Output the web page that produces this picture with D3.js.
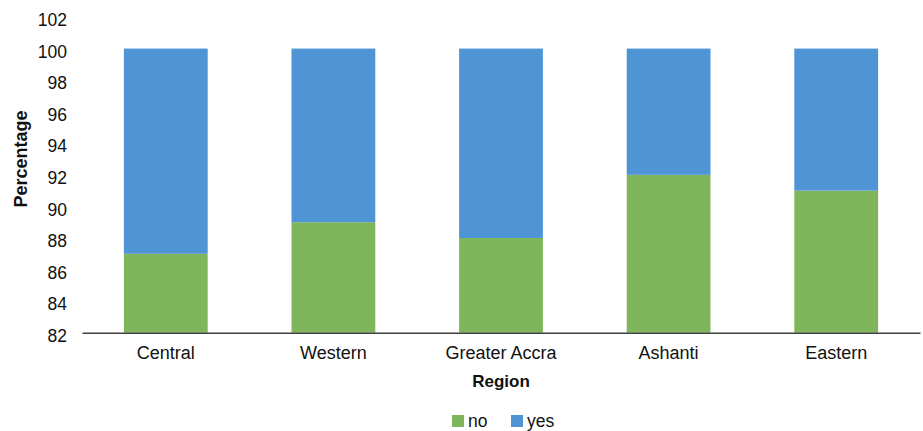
<!DOCTYPE html>
<html><head><meta charset="utf-8">
<script src="https://cdn.jsdelivr.net/npm/d3@7"></script>
<style>body{margin:0;background:#fff;} text{font-family:"Liberation Sans",Arial,sans-serif;}</style>
</head><body><svg id="c" width="923" height="431"></svg>
<script>
const categories = ["Central","Western","Greater Accra","Ashanti","Eastern"];
const noValues = [87, 89, 88, 92, 91];
const yesValues = [13, 11, 12, 8, 9];
const seriesNames = ["no","yes"];
const colors = ["#80b65b","#4f94d4"];
const yTicks = [82,84,86,88,90,92,94,96,98,100,102];

const svg = d3.select("#c");
const m = {left:82, right:3, top:17, bottom:98.3};
const W = 923, H = 431;
const x = d3.scaleBand().domain(categories).range([m.left, W-m.right]).paddingInner(0.5).paddingOuter(0.25);
const y = d3.scaleLinear().domain([82,102]).range([H-m.bottom, m.top]);

const rows = categories.map((c,i)=>({cat:c, no:noValues[i], yes:yesValues[i]}));
const stack = d3.stack().keys(seriesNames)(rows);

svg.append("g").selectAll("g").data(stack).join("g")
  .attr("fill",(d,i)=>colors[i])
  .selectAll("rect").data(d=>d).join("rect")
  .attr("x",d=>x(d.data.cat))
  .attr("width",x.bandwidth())
  .attr("y",d=>y(Math.min(d[1],102)))
  .attr("height",d=>y(Math.max(d[0],82))-y(Math.min(d[1],102)));

const FF = "Liberation Sans, Arial, sans-serif";
// y tick labels
const ya = svg.append("g").attr("transform",`translate(${m.left},3)`)
  .call(d3.axisLeft(y).tickValues(yTicks).tickSize(0).tickPadding(15));
ya.select(".domain").remove();
ya.selectAll("text").attr("font-size",17.5).attr("fill","#111").style("font-family",FF);

// x axis
const xa = svg.append("g").attr("transform",`translate(0,${H-m.bottom})`)
  .call(d3.axisBottom(x).tickSize(0).tickPadding(14));
xa.select(".domain").attr("stroke","#404040").attr("stroke-width",1.5);
xa.selectAll("text").attr("font-size",18).attr("fill","#111").style("font-family",FF);

svg.append("text").attr("x",(m.left+W-m.right)/2).attr("y",387).attr("text-anchor","middle")
  .attr("font-size",17).attr("font-weight","bold").attr("fill","#111").text("Region");
svg.append("text").attr("transform",`translate(27,159) rotate(-90)`).attr("text-anchor","middle")
  .attr("font-size",18).attr("font-weight","bold").attr("fill","#111").text("Percentage");

// legend
const lg = svg.append("g");
const lx = [452, 511];
seriesNames.forEach((s,i)=>{
  lg.append("rect").attr("x",lx[i]).attr("y",415).attr("width",12).attr("height",12).attr("fill",colors[i]);
  lg.append("text").attr("x",lx[i]+16).attr("y",427).attr("font-size",17.5).attr("fill","#111").text(s);
});
</script></body></html>
